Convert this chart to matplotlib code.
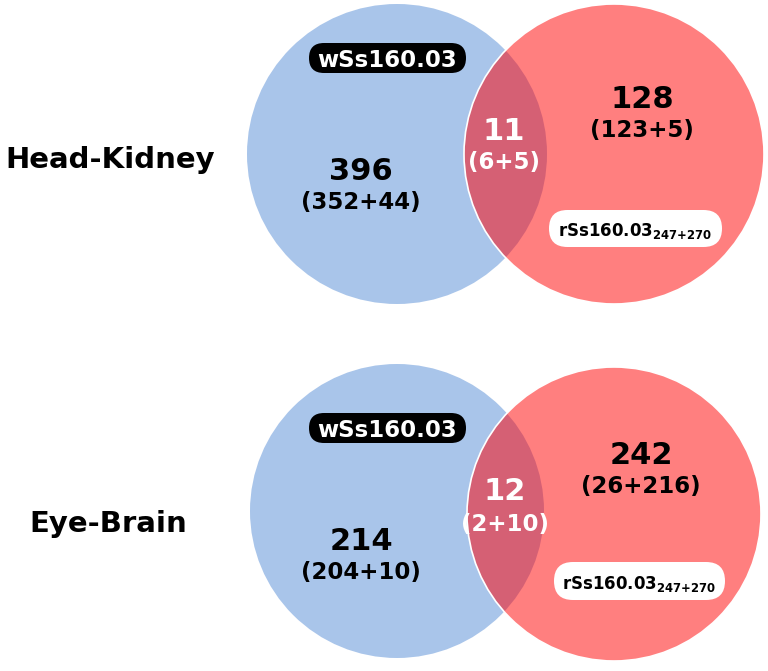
import matplotlib
matplotlib.use("Agg")
import matplotlib.pyplot as plt
from matplotlib.patches import Circle, FancyBboxPatch

# data
tissues = ["Head-Kidney", "Eye-Brain"]
left_only = [396, 214]
left_parts = ["(352+44)", "(204+10)"]
shared = [11, 12]
shared_parts = ["(6+5)", "(2+10)"]
right_only = [128, 242]
right_parts = ["(123+5)", "(26+216)"]
left_name = "wSs160.03"
right_name = r"rSs160.03$_{\mathbf{247{+}270}}$"

# layout (pixel units of the 768x671 canvas)
blue_c = [(397, 154), (397, 511)]
red_c = [(614, 154), (614, 514)]
radius = [150, 147]
tissue_pos = [(5, 157), (29, 521)]
left_pos = [(361, 168), (361, 538)]
right_pos = [(642, 96), (641, 452)]
mid_pos = [(504, 128), (505, 489)]
sub_dy = [35, 35]
wlab_box = [(309, 43, 157, 30), (309, 413, 157, 30)]
rlab_box = [(549, 210, 173, 37), (554, 562, 171, 38)]

blue = "#a9c5ea"
red = "#ff7f7f"
lens = "#d56074"

fig = plt.figure(figsize=(7.68, 6.71), dpi=100)
ax = fig.add_axes([0, 0, 1, 1])
ax.set_xlim(0, 768)
ax.set_ylim(671, 0)
ax.set_aspect("equal")
ax.axis("off")

for i in range(2):
    r = radius[i]
    ax.add_patch(Circle(blue_c[i], r, fc=blue, ec="none", zorder=1))
    rc = Circle(red_c[i], r, fc=red, ec="none", zorder=2)
    ax.add_patch(rc)
    ov = Circle(blue_c[i], r, fc=lens, ec="none", zorder=3)
    ax.add_patch(ov)
    ov.set_clip_path(rc)
    ax.add_patch(Circle(red_c[i], r, fc="none", ec="white", lw=1.2, zorder=4))

    ax.text(tissue_pos[i][0], tissue_pos[i][1], tissues[i], fontsize=21,
            fontweight="bold", ha="left", va="center_baseline", color="black")

    # counts
    for (x, y), big, small, col in [(left_pos[i], left_only[i], left_parts[i], "black"),
                                    (right_pos[i], right_only[i], right_parts[i], "black"),
                                    (mid_pos[i], shared[i], shared_parts[i], "white")]:
        ax.text(x, y, str(big), fontsize=22, fontweight="bold", color=col,
                ha="center", va="center_baseline", zorder=6)
        ax.text(x, y + sub_dy[i], small, fontsize=16.5, fontweight="bold", color=col,
                ha="center", va="center", zorder=6)

    # name labels
    bx, by, bw, bh = wlab_box[i]
    ax.add_patch(FancyBboxPatch((bx, by), bw, bh, boxstyle=f"round,pad=0,rounding_size={bh/2}",
                                fc="black", ec="none", zorder=5))
    ax.text(bx + bw / 2, by + bh / 2, left_name, fontsize=16.5, fontweight="bold",
            color="white", ha="center", va="center_baseline", zorder=6)
    bx, by, bw, bh = rlab_box[i]
    ax.add_patch(FancyBboxPatch((bx, by), bw, bh, boxstyle=f"round,pad=0,rounding_size={bh/2}",
                                fc="white", ec="none", zorder=5))
    ax.text(bx + bw / 2, by + bh / 2, right_name, fontsize=12, fontweight="bold",
            color="black", ha="center", va="center_baseline", zorder=6)

fig.savefig("out.png", dpi=100)
